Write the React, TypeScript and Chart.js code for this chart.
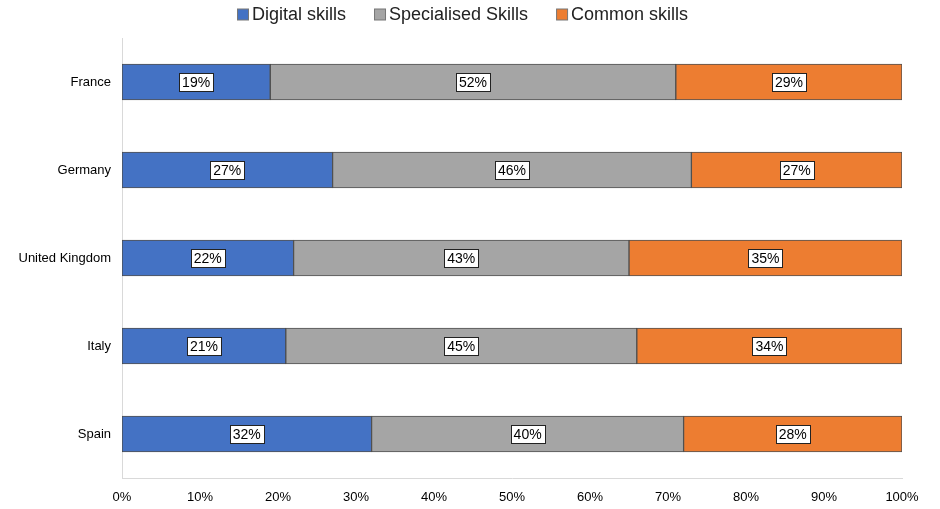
import React, { useEffect, useRef } from "react";
import { Chart, registerables } from "chart.js";

Chart.register(...registerables);

const countries = ["France", "Germany", "United Kingdom", "Italy", "Spain"];
const digital = [19, 27, 22, 21, 32];
const specialised = [52, 46, 43, 45, 40];
const common = [29, 27, 35, 34, 28];
const seriesNames = ["Digital skills", "Specialised Skills", "Common skills"];
const seriesColors = ["#4472C4", "#A5A5A5", "#ED7D31"];

const FONT = "'Liberation Sans', Arial, sans-serif";

const labelPlugin = {
  id: "boxLabels",
  afterDatasetsDraw(chart: any) {
    const ctx = chart.ctx;
    ctx.save();
    ctx.font = "14px " + FONT;
    ctx.textAlign = "center";
    ctx.textBaseline = "middle";
    chart.data.datasets.forEach((ds: any, di: number) => {
      const meta = chart.getDatasetMeta(di);
      meta.data.forEach((el: any, i: number) => {
        const v = ds.data[i];
        const txt = v + "%";
        const cx = (el.x + el.base) / 2;
        const cy = el.y;
        const w = ctx.measureText(txt).width + 6;
        const h = 18;
        const x0 = Math.round(cx - w / 2) + 0.5;
        const y0 = Math.round(cy - h / 2) + 0.5;
        ctx.fillStyle = "#ffffff";
        ctx.fillRect(x0, y0, Math.round(w), h);
        ctx.strokeStyle = "#222222";
        ctx.lineWidth = 1;
        ctx.strokeRect(x0, y0, Math.round(w), h);
        ctx.fillStyle = "#000000";
        ctx.fillText(txt, cx, cy + 1);
      });
    });
    ctx.restore();
  },
};

const legendPlugin = {
  id: "topLegend",
  afterDraw(chart: any) {
    const ctx = chart.ctx;
    ctx.save();
    ctx.font = "18px " + FONT;
    ctx.textBaseline = "middle";
    ctx.textAlign = "left";
    const box = 11;
    const gapBox = 4;
    const gapItem = 28;
    const widths = seriesNames.map((n) => box + gapBox + ctx.measureText(n).width);
    const total = widths.reduce((a, b) => a + b, 0) + gapItem * (seriesNames.length - 1);
    let x = Math.round(463 - total / 2);
    const cy = 14;
    seriesNames.forEach((n, i) => {
      ctx.fillStyle = seriesColors[i];
      ctx.fillRect(x + 0.5, cy - box / 2 + 0.5, box, box);
      ctx.strokeStyle = "#777";
      ctx.lineWidth = 1;
      ctx.strokeRect(x + 0.5, cy - box / 2 + 0.5, box, box);
      ctx.fillStyle = "#222";
      ctx.fillText(n, x + box + gapBox, cy + 1);
      x += widths[i] + gapItem;
    });
    ctx.restore();
  },
};

export default function App() {
  const ref = useRef<HTMLCanvasElement | null>(null);
  useEffect(() => {
    if (!ref.current) return;
    const values = [digital, specialised, common];
    const chart = new Chart(ref.current, {
      type: "bar",
      data: {
        labels: countries,
        datasets: values.map((d, i) => ({
          label: seriesNames[i],
          data: d,
          backgroundColor: seriesColors[i],
          borderColor: "rgba(50,50,50,0.85)",
          borderWidth: 1,
          borderSkipped: false,
          barThickness: 36,
        })),
      },
      options: {
        indexAxis: "y",
        animation: false,
        responsive: false,
        maintainAspectRatio: false,
        layout: { padding: { top: 38, right: 38, bottom: 0, left: 0 } },
        plugins: {
          legend: { display: false },
          tooltip: { enabled: false },
        },
        scales: {
          x: {
            stacked: true,
            min: 0,
            max: 100,
            ticks: {
              stepSize: 10,
              callback: (v: any) => v + "%",
              color: "#000",
              font: { family: FONT, size: 13 },
              padding: 12,
              maxRotation: 0,
            },
            grid: { display: false, drawTicks: false },
            border: { display: true, color: "#d9d9d9" },
            afterFit: (s: any) => { s.height = 31; },
          },
          y: {
            stacked: true,
            ticks: {
              color: "#000",
              font: { family: FONT, size: 13 },
              padding: 11,
            },
            grid: { display: false, drawTicks: false },
            border: { display: true, color: "#d9d9d9" },
            afterFit: (s: any) => { s.width = 122; },
          },
        },
      },
      plugins: [labelPlugin, legendPlugin],
    } as any);
    return () => chart.destroy();
  }, []);
  return (
    <div style={{ position: "absolute", left: 0, top: 0, width: 940, height: 509, background: "#fff" }}>
      <canvas ref={ref} width={940} height={509} style={{ width: 940, height: 509 }} />
    </div>
  );
}
